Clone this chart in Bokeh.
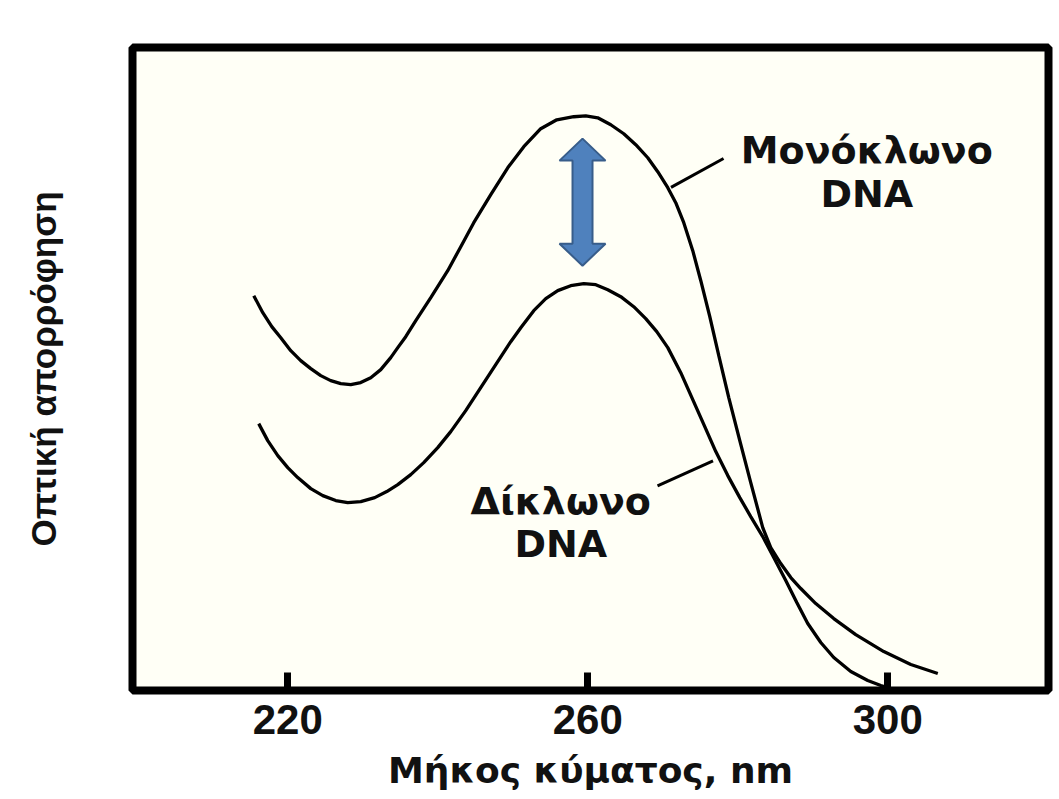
from bokeh.plotting import figure
from bokeh.models import Range1d, FixedTicker
from bokeh.core.properties import value
from bokeh.embed import file_html
from bokeh.resources import INLINE

# ---- data (wavelength in nm, relative absorbance 0-100) ----
wavelength_ss = [215.47, 216.67, 217.87, 219.07, 220.40, 221.73, 223.07, 224.40, 225.73, 227.07,
                 228.40, 229.73, 231.07, 232.40, 233.73, 234.67, 235.73, 237.07, 239.07, 241.33,
                 243.07, 244.80, 247.07, 249.33, 251.47, 253.73, 255.87, 258.13, 259.73, 261.33,
                 263.07, 264.80, 266.40, 268.00, 269.33, 270.67, 271.73, 272.80, 274.00, 275.07,
                 276.27, 277.47, 278.80, 280.27, 281.73, 283.33, 284.40, 285.73, 287.07, 288.40,
                 290.40, 292.80, 295.73, 299.47, 303.07, 306.67]
absorb_ss = [61.53, 58.88, 56.70, 54.98, 52.96, 51.40, 50.16, 49.07, 48.29, 47.82,
             47.66, 47.98, 48.75, 50.00, 51.87, 53.43, 55.14, 57.63, 61.21, 65.42,
             69.16, 72.90, 77.26, 81.46, 84.74, 87.54, 88.94, 89.41, 89.56, 89.25,
             88.16, 86.76, 85.05, 83.02, 80.84, 78.35, 76.01, 72.90, 68.54, 63.86,
             58.26, 52.18, 45.64, 38.94, 32.40, 25.39, 22.27, 19.78, 17.60, 15.89,
             13.55, 11.21, 8.72, 6.07, 4.05, 2.65]

wavelength_ds = [216.13, 217.33, 218.67, 220.00, 221.33, 223.07, 224.67, 226.40, 228.00, 229.73,
                 231.60, 233.20, 234.67, 236.40, 238.13, 240.00, 241.73, 243.73, 245.73, 247.73,
                 249.73, 251.07, 252.80, 254.40, 256.00, 257.73, 259.47, 261.07, 262.67, 264.40,
                 266.13, 267.73, 269.20, 270.67, 272.40, 274.00, 275.60, 277.07, 278.67, 280.27,
                 281.73, 283.33, 284.80, 286.40, 287.87, 289.33, 291.07, 292.80, 295.07, 297.33,
                 299.07, 300.40]
absorb_ds = [41.59, 38.94, 36.60, 34.74, 33.18, 31.46, 30.37, 29.60, 29.28, 29.44,
             30.06, 31.00, 32.09, 33.64, 35.51, 37.85, 40.34, 43.61, 47.20, 50.78,
             54.36, 56.54, 59.19, 61.06, 62.31, 63.08, 63.40, 63.24, 62.46, 61.37,
             59.81, 57.94, 55.92, 53.43, 49.53, 45.33, 41.12, 37.23, 33.49, 30.06,
             27.10, 23.99, 20.72, 17.13, 13.71, 10.44, 7.48, 5.14, 2.96, 1.56,
             0.78, 0.31]

x_ticks = [220, 260, 300]
x_label = "Μήκος κύματος, nm"
y_label = "Οπτική απορρόφηση"

# label texts and anchor positions (data units)
label_ss_lines = ["Μονόκλωνο", "DNA"]
label_ss_x = 297.2
label_ss_y = [84.3, 77.4]
leader_ss_x = [271.1, 278.1]
leader_ss_y = [78.4, 82.9]

label_ds_lines = ["Δίκλωνο", "DNA"]
label_ds_x = 256.4
label_ds_y = [29.5, 22.9]
leader_ds_x = [269.3, 276.7]
leader_ds_y = [31.9, 35.8]

# double arrow marking the hyperchromic difference
arrow_x = 259.3
arrow_top = 86.0
arrow_bottom = 66.2

X_START, X_END = 199.3, 321.43
Y_START, Y_END = 0.0, 100.2
FRAME_W, FRAME_H = 916, 643

p = figure(width=1059, height=799, output_backend="svg", toolbar_location=None,
           x_range=Range1d(X_START, X_END), y_range=Range1d(Y_START, Y_END),
           min_border_left=132, min_border_right=11, min_border_top=47,
           min_border_bottom=109)
p.background_fill_color = "#fffff6"
p.border_fill_color = "white"
p.outline_line_color = "black"
p.outline_line_width = 8
p.grid.visible = False

# x axis
xa = p.xaxis[0]
xa.ticker = FixedTicker(ticks=x_ticks)
xa.minor_tick_line_color = None
xa.major_tick_in = 18
xa.major_tick_out = 0
xa.major_tick_line_width = 7
xa.major_tick_line_color = "black"
xa.axis_line_color = None
xa.major_label_text_font = "Liberation Sans"
xa.major_label_text_font_style = "bold"
xa.major_label_text_font_size = "42px"
xa.major_label_text_color = "#111111"
xa.major_label_standoff = 14
xa.axis_label = x_label
xa.axis_label_text_font = "DejaVu Sans"
xa.axis_label_text_font_style = "bold"
xa.axis_label_text_font_size = "36px"
xa.axis_label_text_color = "#111111"
xa.axis_label_standoff = 13

# y axis (no ticks)
ya = p.yaxis[0]
ya.ticker = FixedTicker(ticks=[])
ya.minor_tick_line_color = None
ya.major_tick_line_color = None
ya.axis_line_color = None
ya.major_label_text_font_size = "0px"
ya.axis_label = y_label
ya.axis_label_text_font = "Liberation Sans"
ya.axis_label_text_font_style = "bold"
ya.axis_label_text_font_size = "35px"
ya.axis_label_text_color = "#111111"
ya.axis_label_standoff = 70

# curves
p.line(wavelength_ss, absorb_ss, line_color="black", line_width=3.3)
p.line(wavelength_ds, absorb_ds, line_color="black", line_width=3.3)

# leaders
p.line(leader_ss_x, leader_ss_y, line_color="black", line_width=3)
p.line(leader_ds_x, leader_ds_y, line_color="black", line_width=3)

# labels
lab_font = value("DejaVu Sans")
p.text(x=[label_ss_x] * 2, y=label_ss_y, text=label_ss_lines, text_font=lab_font,
       text_font_style="bold", text_font_size="38px", text_align="center",
       text_baseline="alphabetic", text_color="#111111")
p.text(x=[label_ds_x] * 2, y=label_ds_y, text=label_ds_lines, text_font=lab_font,
       text_font_style="bold", text_font_size="38px", text_align="center",
       text_baseline="alphabetic", text_color="#111111")

# double-headed arrow polygon built from the arrow definition
nm_per_px = (X_END - X_START) / FRAME_W
u_per_px = (Y_END - Y_START) / FRAME_H
hw, sw, hl = 23 * nm_per_px, 10 * nm_per_px, 22 * u_per_px
ax, at, ab = arrow_x, arrow_top, arrow_bottom
arr_x = [ax, ax + hw, ax + sw, ax + sw, ax + hw, ax, ax - hw, ax - sw, ax - sw, ax - hw]
arr_y = [at, at - hl, at - hl, ab + hl, ab + hl, ab, ab + hl, ab + hl, at - hl, at - hl]
p.patch(arr_x, arr_y, fill_color="#4F81BD", line_color="#385D8A", line_width=2)

open("out.html", "w").write(file_html(p, INLINE))
